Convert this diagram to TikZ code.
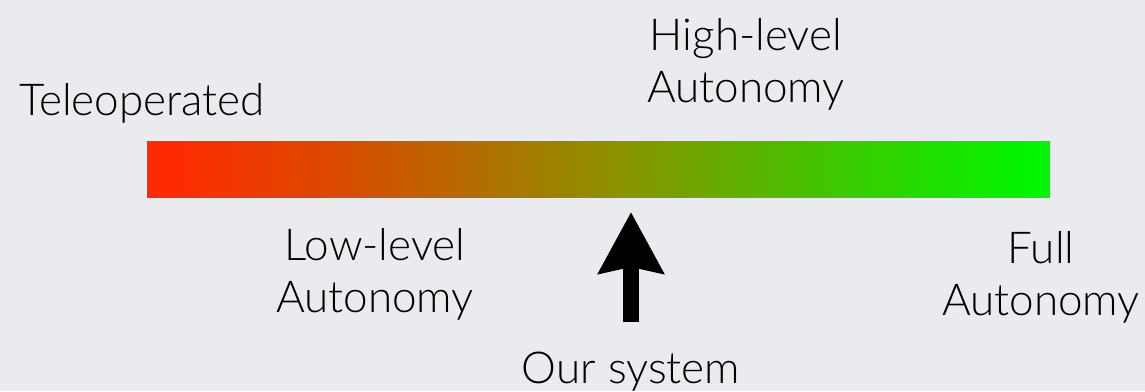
\documentclass[tikz,border=0pt]{standalone}
\usepackage{fontspec}
\IfFontExistsTF{Lato Light}{\setmainfont{Lato Light}}{\setmainfont{Lato}}
\usetikzlibrary{arrows.meta}
\definecolor{bgcol}{HTML}{E9EBEE}
\definecolor{barred}{HTML}{FF2A00}
\definecolor{barorange}{HTML}{DC4800}
\definecolor{barolive}{HTML}{8A9400}
\definecolor{barlime}{HTML}{38CC00}
\definecolor{bargreen}{HTML}{00F500}
% red-to-green autonomy scale; TikZ fits the path to the 25bp..75bp band
\pgfdeclarehorizontalshading{autonomyscale}{100bp}{%
  color(0bp)=(barred); color(26bp)=(barred); color(35bp)=(barorange);
  color(51.5bp)=(barolive); color(64bp)=(barlime); color(74bp)=(bargreen);
  color(100bp)=(bargreen)}
\begin{document}
\begin{tikzpicture}[x=1pt,y=-1pt,
  lbl/.style={inner sep=0pt, align=center, text=black,
    font=\fontsize{44}{52}\selectfont},
  bigarrow/.style={line width=16pt, line cap=butt,
    -{Stealth[length=61pt,width=64pt,inset=6pt]}}]
  % canvas
  \fill[bgcol] (0,0) rectangle (1145,391);
  \useasboundingbox (0,0) rectangle (1145,391);
  % autonomy scale
  \node (bar) [inner sep=0pt, minimum width=903pt, minimum height=56pt,
    shading=autonomyscale] at (598.5,169) {};
  % labels (base = baseline of the last line)
  \node (tele) [lbl, anchor=base] at (142,115) {Teleoperated};
  \node (high) [lbl, anchor=base] at (746,102) {High-level\\Autonomy};
  \node (low)  [lbl, anchor=base] at (375,312) {Low-level\\Autonomy};
  \node (full) [lbl, anchor=base] at (1041,315) {Full\\Autonomy};
  \node (sys)  [lbl, anchor=base] at (631,383) {Our system};
  % pointer
  \coordinate (tail) at (631,322);
  \coordinate (tip) at (631,212);
  \draw[bigarrow] (tail) -- (tip);
\end{tikzpicture}
\end{document}
